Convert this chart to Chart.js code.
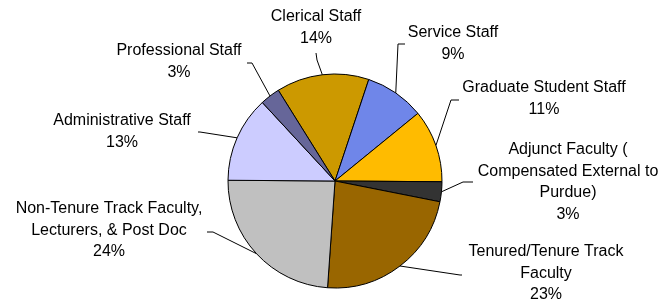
<!DOCTYPE html>
<html lang="en">
<head>
    <meta charset="UTF-8">
    <title>Staff pie</title>
    <script src="https://cdn.jsdelivr.net/npm/chart.js"></script>
    <style>
        body { margin: 0; background: #fff; }
    </style>
</head>
<body>
    <canvas id="pieChart" width="664" height="304"></canvas>

    <script>
        // data
        const categories = [
            ['Clerical Staff'],
            ['Service Staff'],
            ['Graduate Student Staff'],
            ['Adjunct Faculty (', 'Compensated External to', 'Purdue)'],
            ['Tenured/Tenure Track', 'Faculty'],
            ['Non-Tenure Track Faculty,', 'Lecturers, & Post Doc'],
            ['Administrative Staff'],
            ['Professional Staff']
        ];
        const shares = [14, 9, 11, 3, 23, 24, 13, 3];
        const sliceColors = ['#CC9900', '#6F86E9', '#FFBB00', '#333333', '#996600', '#C0C0C0', '#CCCCFF', '#666699'];

        // where each label sits, and the bend of its leader line
        const labelLayout = [
            { x: 316, y: 17, bend: [317, 60], end: [316, 53] },
            { x: 453, y: 33, bend: [398, 44], end: [405, 44] },
            { x: 544, y: 88, bend: [451, 100], end: [459, 100] },
            { x: 568, y: 150, bend: [463, 182], end: [473, 182] },
            { x: 546, y: 252, bend: [460, 275], end: [462, 275] },
            { x: 109, y: 209, bend: [213, 232], end: [207, 232] },
            { x: 122, y: 121, bend: [200, 132], end: [198, 132] },
            { x: 179, y: 51, bend: [252, 63], end: [247, 63] }
        ];

        const pieLabels = {
            id: 'pieLabels',
            afterDatasetsDraw(chart) {
                const ctx = chart.ctx;
                const arcs = chart.getDatasetMeta(0).data;
                const total = shares.reduce((a, b) => a + b, 0);
                ctx.save();
                ctx.strokeStyle = '#000';
                ctx.lineWidth = 1;
                ctx.fillStyle = '#000';
                ctx.font = '16px "Liberation Sans", Arial, sans-serif';
                ctx.textAlign = 'center';
                ctx.textBaseline = 'middle';
                arcs.forEach((arc, i) => {
                    const lay = labelLayout[i];
                    const mid = (arc.startAngle + arc.endAngle) / 2;
                    const sx = arc.x + Math.cos(mid) * arc.outerRadius;
                    const sy = arc.y + Math.sin(mid) * arc.outerRadius;
                    ctx.beginPath();
                    ctx.moveTo(sx, sy);
                    ctx.lineTo(lay.bend[0], lay.bend[1]);
                    ctx.lineTo(lay.end[0], lay.end[1]);
                    ctx.stroke();

                    const lines = categories[i].concat([Math.round(shares[i] / total * 100) + '%']);
                    lines.forEach((t, k) => {
                        ctx.fillText(t, lay.x, lay.y + k * 21.5);
                    });
                });
                ctx.restore();
            }
        };

        new Chart(document.getElementById('pieChart').getContext('2d'), {
            type: 'pie',
            data: {
                labels: categories.map(c => c.join(' ')),
                datasets: [{
                    data: shares,
                    backgroundColor: sliceColors,
                    borderColor: '#000',
                    borderWidth: 1,
                    hoverOffset: 0,
                    radius: 107
                }]
            },
            options: {
                responsive: false,
                animation: false,
                rotation: -32,
                layout: {
                    padding: { top: 73, bottom: 15, left: 120, right: 114 }
                },
                plugins: {
                    legend: { display: false },
                    tooltip: { enabled: false }
                }
            },
            plugins: [pieLabels]
        });
    </script>
</body>
</html>
